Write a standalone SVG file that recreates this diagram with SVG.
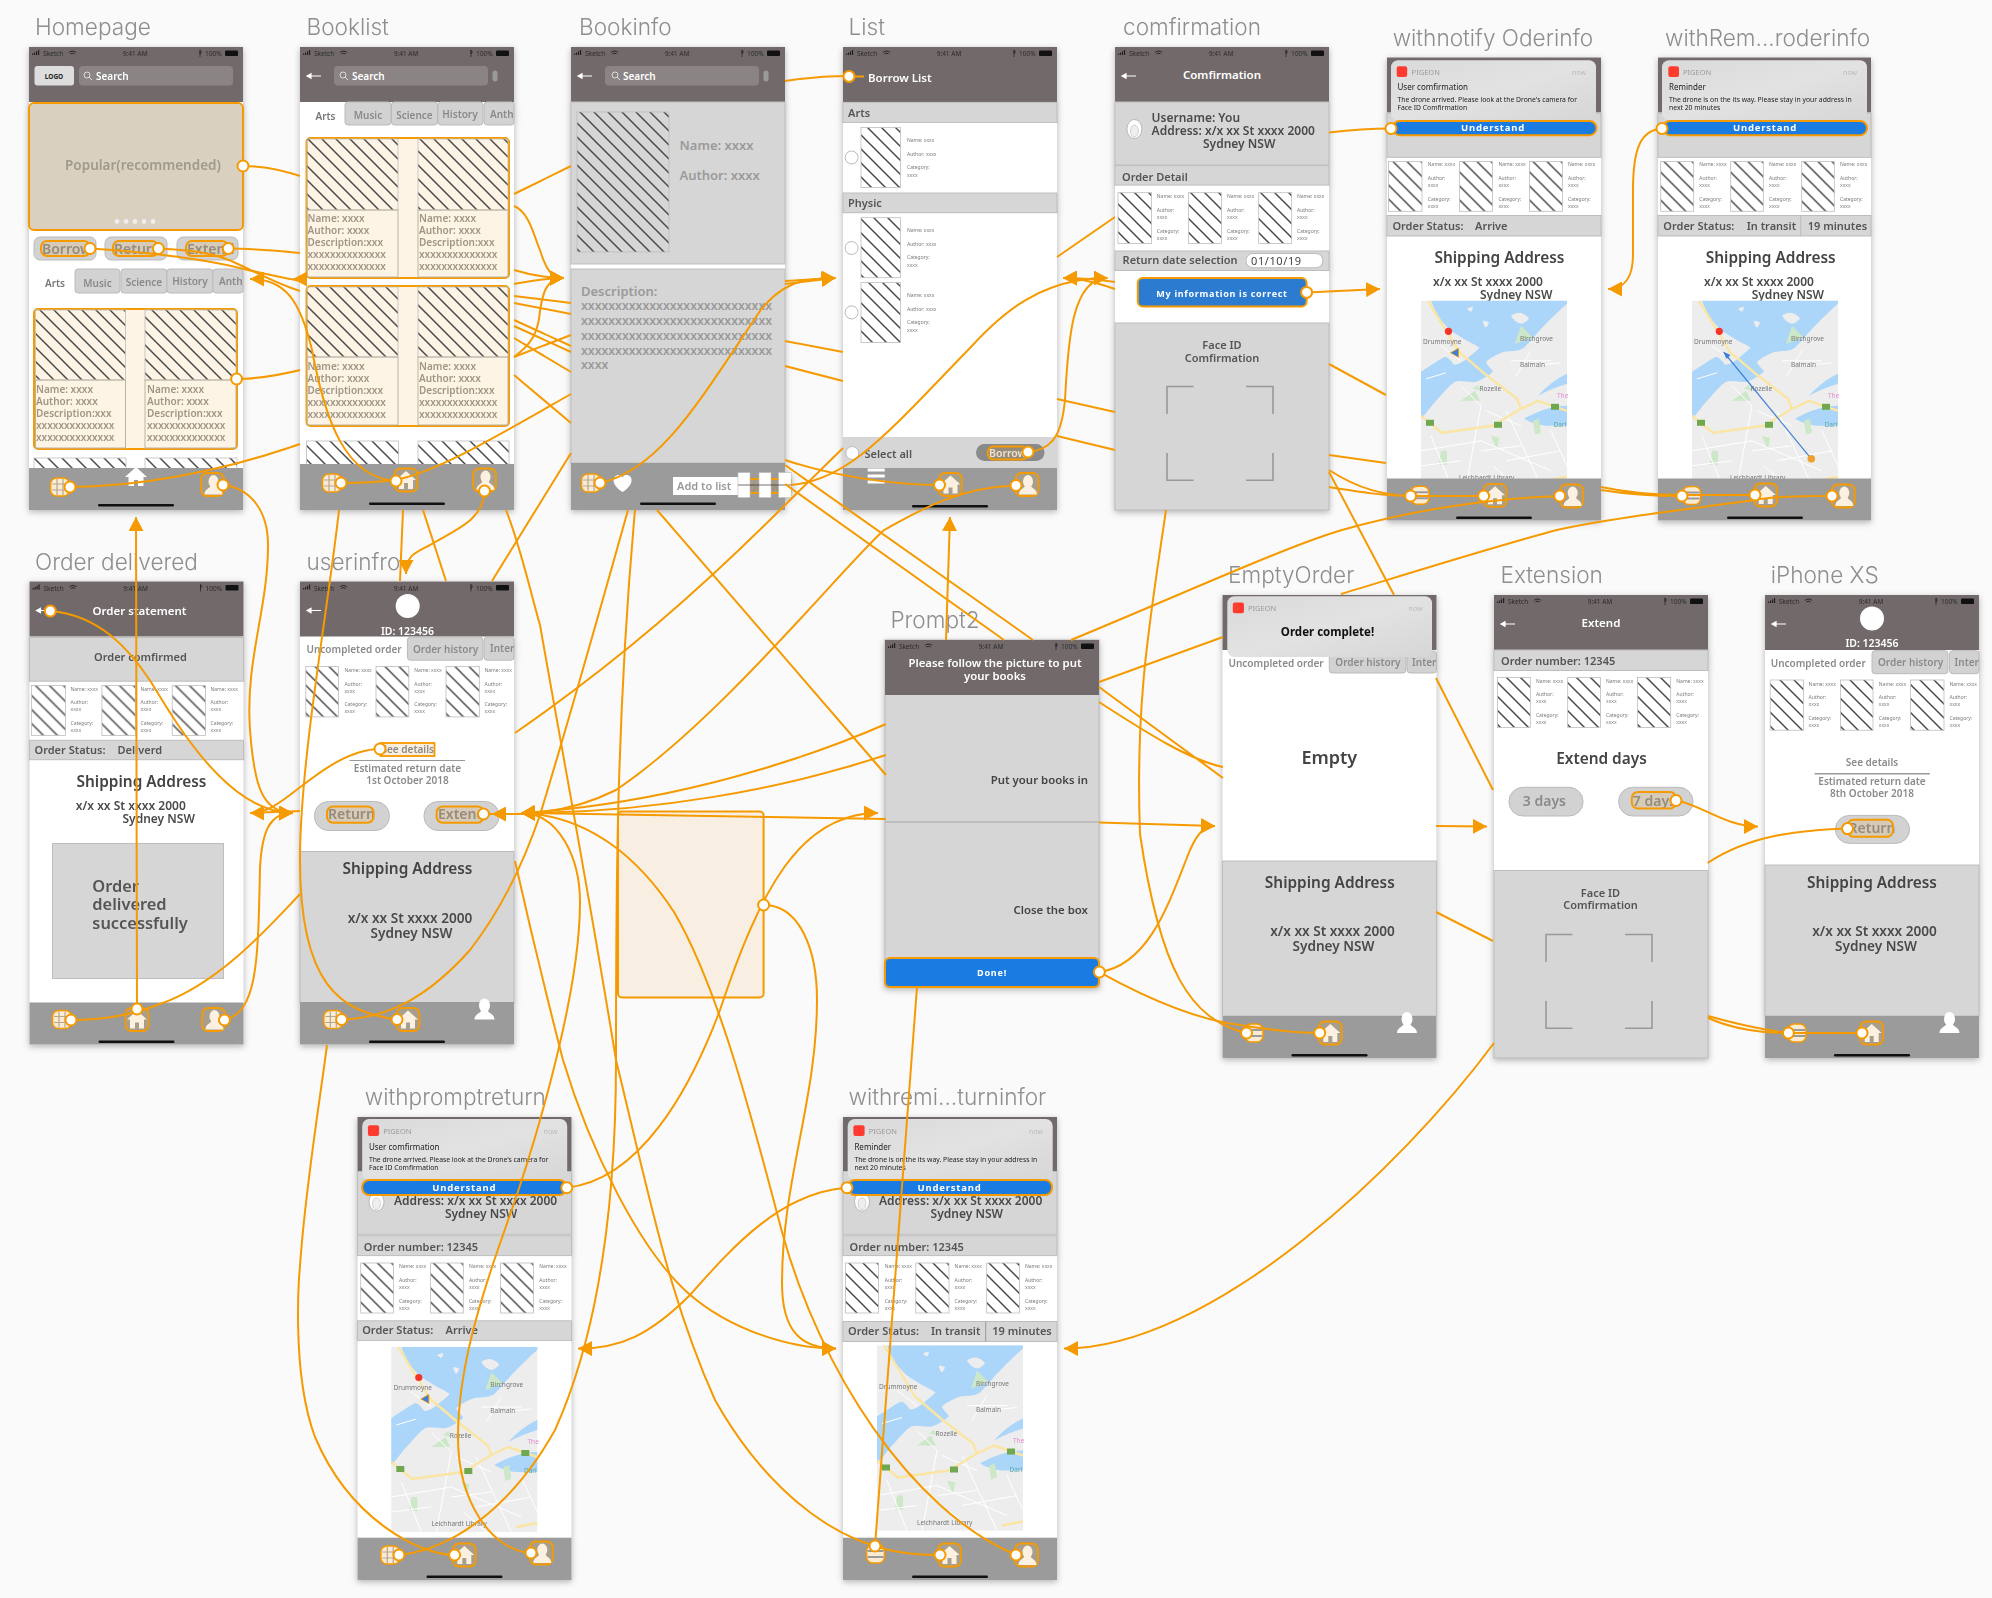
<svg xmlns="http://www.w3.org/2000/svg" width="1992" height="1598" viewBox="0 0 1992 1598">
<style>
text{font-family:"Noto Sans","DejaVu Sans",sans-serif}
.ti{font-family:Inter,"Noto Sans",sans-serif;font-size:22.6px;font-weight:300;fill:#8E8E8E}
.ph{fill:#fff}
.phone{filter:drop-shadow(0 2px 3px rgba(0,0,0,.28))}
.hd{fill:#726A6A}
.bar{fill:#9B9B9B}
.ind{fill:#111}
.sec{fill:#D6D6D6;stroke:#BDBDBD;stroke-width:1}
.ht{fill:url(#h);stroke:#BDBDBD;stroke-width:.8}
.tab{fill:#D2D2D2;stroke:#BBB;stroke-width:1}
.st{font-size:6.5px;fill:#2b2b2b}
.wt{font-size:11.5px;font-weight:600;fill:#fff}
.sr{font-size:10px;font-weight:600;fill:#fff}
.tb{font-size:10px;font-weight:600;fill:#8a8a8a}
.bk{font-size:10px;font-weight:600;fill:#A09683}
.s{font-size:5px;fill:#7b7b7b}
.h2{font-size:11px;font-weight:600;fill:#555}
.sh{font-size:15.4px;font-weight:600;fill:#444}
.ad{font-size:12px;font-weight:600;fill:#4a4a4a}
.ad2{font-size:13.6px;font-weight:600;fill:#4a4a4a}
.gr{font-size:13px;font-weight:600;fill:#9a9a9a}
.gy{font-size:10px;font-weight:600;fill:#8a8a8a}
.bt{font-size:14px;font-weight:600;fill:#8a8a8a}
.btn{fill:#1A7BE2;stroke:#F59A00;stroke-width:2}
.bw{font-size:9.5px;font-weight:700;fill:#fff;letter-spacing:.8px;text-anchor:middle}
.hl{fill:rgba(245,154,0,.12);stroke:#F59A00;stroke-width:2}
.pill{fill:#D2D2D2;stroke:#BBB;stroke-width:1}
.c{text-anchor:middle}
.r{text-anchor:end}
.card{fill:url(#cg)}
.pg{font-size:7.5px;fill:#999}
.no{font-size:7px;fill:#BBB;text-anchor:end}
.nt{font-size:8px;fill:#222}
.nl{font-size:6.8px;fill:#222}
.br{fill:none;stroke:#999;stroke-width:1.6}
.mt{font-size:6.5px;fill:#777}
#connectors path{fill:none;stroke:#F59A00;stroke-width:2}
#connectors .a{marker-end:url(#arrow)}
#connectors circle{fill:#fff;stroke:#F59A00;stroke-width:2;r:5.5px}
</style>
<defs>
<pattern id="h" width="14" height="14" patternUnits="userSpaceOnUse"><path d="M-2,-2L16,16M-2,12L2,16M12,-2L16,2" stroke="#4a4a4a" stroke-width="1.5" fill="none"/></pattern>
<linearGradient id="cg" x1="0" y1="0" x2="1" y2="1"><stop offset="0" stop-color="#DADADA"/><stop offset=".5" stop-color="#E2E2E2"/><stop offset="1" stop-color="#D6D6D6"/></linearGradient>
<filter id="soft" x="0" y="0" width="1" height="1"><feGaussianBlur stdDeviation=".6"/></filter>
<marker id="arrow" viewBox="0 0 14 15" refX="14" refY="7.5" markerWidth="14" markerHeight="15" markerUnits="userSpaceOnUse" orient="auto"><path d="M0,0L14,7.5L0,15Z" fill="#F59A00"/></marker>
<g id="sb"><path d="M3,8V6.5H4.2V8ZM5,8V5.5H6.2V8ZM7,8V4.3H8.2V8ZM9,8V3H10.2V8Z" fill="#222"/><path d="M40,5.5a5,5 0 0 1 7,0M41.5,7a3,3 0 0 1 4,0" stroke="#222" fill="none" stroke-width="1"/><path d="M171,3L172.5,5L171,7ZM171,3V10" stroke="#222" fill="none" stroke-width=".7"/><rect x="196" y="3.5" width="13" height="5.5" rx="1" fill="#111"/></g>
<path id="bk" d="M7,29H21M7,29L11,26.8V31.2Z" stroke="#fff" stroke-width="1.2" fill="#fff"/>
<g id="mg"><circle cx="0" cy="0" r="3" fill="none" stroke="#ddd" stroke-width="1"/><path d="M2,2L5,5" stroke="#ddd"/></g>
<rect id="mc" x="-2.5" y="-5.5" width="5" height="11" rx="2.5" fill="#9a9a9a"/>
<g id="fc"><ellipse rx="7.5" ry="9.5" fill="#fff" stroke="#aaa" stroke-width=".8"/><ellipse cy="2" rx="4" ry="6" fill="#eee" stroke="#bbb" stroke-width=".6"/></g>
<g id="ig"><rect x="-9.5" y="-9" width="19" height="18" rx="6" fill="#FBEBD3" stroke="#F59A00" stroke-width="1.6"/><path d="M-3,-8V8M3,-8V8M-8,-3H8M-8,3H8" stroke="#B5A792" stroke-width="1.2"/></g>
<g id="il"><rect x="-9" y="-9" width="18" height="18" rx="6" fill="#FBEBD3" stroke="#F59A00" stroke-width="1.6"/><path d="M-8,-3H8M-8,3H8" stroke="#9B9B9B" stroke-width="2"/></g>
<g id="ih"><rect x="-11.5" y="-11.5" width="23" height="23" rx="6" fill="#A89E8E" stroke="#F59A00" stroke-width="1.8"/><path d="M0,-9L10,0H7V9H2V3H-2V9H-7V0H-10Z" fill="#FCF1E0"/></g>
<g id="ip"><rect x="-11.5" y="-11.5" width="23" height="23" rx="6" fill="#A89E8E" stroke="#F59A00" stroke-width="1.8"/><ellipse cx="1" cy="-3" rx="5" ry="6.5" fill="#FCF1E0"/><path d="M-8,10C-8,4 -2,4 -2,1H4C4,4 10,4 10,10Z" fill="#FCF1E0"/></g>
<g id="iw"><ellipse cy="-4" rx="5.5" ry="7" fill="#fff"/><path d="M-10,10C-10,4 -3,4 -3,0H3C3,4 10,4 10,10Z" fill="#fff"/></g>
<path id="hw" d="M0,-10L11,0H7.5V9H2V3H-2V9H-7.5V0H-11Z" fill="#fff"/>
<path id="lw" d="M-8,-6H9M-8,0H9M-8,6H9" stroke="#fff" stroke-width="3"/>
<path id="hr" d="M0,9C-14,0 -9,-9 -3,-8C-1,-8 0,-6 0,-5C0,-6 1,-8 3,-8C9,-9 14,0 0,9Z" fill="#fff"/>
<g id="brk"><path class="br" d="M52,367V339.5H78.5M131,339.5H158V367M52,406V433.3H78.5M131,433.3H158V406"/></g>
<g id="map"><rect width="146" height="185" fill="#EDEDED"/><g filter="url(#soft)"><path d="M10,0C14,10 18,18 24,24C30,31 35,33 41,37C47,41 53,43 58.5,47C54,52 50,54 46.5,57.5C42,61 38,64 33,64C30,60 28,57 24,56C16,60 8,66 0,71V118C6,112 11,104 17,98C23,91 28,85 34,81C40,79 48,82 55,81C61,79 67,75 72,71C70,67 66,65 65,61C71,56 77,53 83,51C90,50 97,51 103,47C110,40 117,31 124,24C131,17 139,9 146,3V0ZM146,73C135,78 125,86 117,95C126,90 136,86 146,83ZM146,105C137,105 128,107 120,110C114,112 108,115 103,118C110,122 117,124 124,125H146Z" fill="#ABD6F9"/><path d="M90,15c4,-3 9,-4 12,-2c3,1 5,3 6,5c-3,3 -6,5 -8,5c-4,-1 -8,-4 -10,-8zM62,20c3,0 5,1 6,2c-1,2 -2,4 -3,5c-2,-2 -3,-4 -3,-7zM46,8c2,-1 4,-2 6,-2c0,2 -1,4 -2,5c-2,-1 -3,-2 -4,-3z" fill="#EDEDED"/><path d="M100,25l12,12 -18,6zM40,100l14,-10 5,10zM20,150l6,0 0,14 -8,0zM70,135l8,2 -2,12zM112,120l6,-2 2,14 -6,2zM52,88l5,-4 3,6z" fill="#CDE8C8"/><path d="M0,150L60,140L130,170M40,85L60,105L45,185M85,110L120,185M20,45L40,60M90,60L130,60M110,50L95,75M10,135L30,185M60,150L100,145M5,78L25,72M65,110L100,125M85,160L140,150M110,65L140,62M130,130L146,165M0,165L40,160M72,165L95,185" stroke="#fff" stroke-width="1" fill="none"/><path d="M7,0L38,51L65,74L96,98L100,108L117,100L146,110M0,115L21,132L72,125L100,108M125,180L146,176" fill="none" stroke="#FBE5A2" stroke-width="2.4" stroke-linejoin="round"/></g><rect x="5" y="119" width="8" height="6" fill="#6FA84F"/><rect x="73" y="121" width="8" height="6" fill="#6FA84F"/><rect x="130" y="103" width="8" height="6" fill="#6FA84F"/></g>
<g id="pin"><circle r="3.6" fill="#F4332B"/></g>
<g id="nav"><path d="M-5,0L3,-4.5V4.5Z" fill="#3C7FD4" stroke="#F59A00" stroke-width=".8"/></g>
</defs>
<rect width="1992" height="1598" fill="#FAFAFA"/>
<rect x="618" y="811.5" width="145.6" height="186" rx="4" fill="#F8EFE2" stroke="#F59A00" stroke-width="2"/>

<g id="homepage" class="phone" transform="translate(29,47)">
<rect class="ph" width="214" height="463"/><rect class="hd" width="214" height="55"/><use href="#sb"/>
<text class="st" x="14" y="9">Sketch</text><text class="st c" x="106" y="9">9:41 AM</text><text class="st" x="176" y="9">100%</text>
<rect x="5.5" y="19" width="39.5" height="19.5" rx="3" fill="#DDD"/><text x="25" y="31.5" class="c" font-size="6.5" font-weight="700" fill="#222">LOGO</text>
<rect x="50" y="19" width="154" height="19.5" rx="4" fill="#8A8484"/><use href="#mg" x="58" y="28"/><text class="sr" x="67" y="32.5">Search</text>
<rect x="0" y="56" width="214" height="127" rx="5" fill="#D9D0C0" stroke="#F59A00" stroke-width="2"/>
<text x="114" y="123" class="c" font-size="13.5" font-weight="600" fill="#A09A8D">Popular(recommended)</text>
<g fill="#EEE"><circle cx="88" cy="174.5" r="2.4"/><circle cx="97" cy="174.5" r="2.4"/><circle cx="106" cy="174.5" r="2.4"/><circle cx="115" cy="174.5" r="2.4"/><circle cx="124" cy="174.5" r="2.4"/></g>
<rect class="pill" x="5" y="190" width="62" height="23" rx="6"/><rect class="pill" x="76" y="190" width="62" height="23" rx="6"/><rect class="pill" x="148" y="190" width="61" height="23" rx="6"/>
<text class="bt" x="13" y="207">Borrow</text><text class="bt" x="85" y="207">Return</text><text class="bt" x="158" y="207">Extend</text>
<rect class="hl" x="12" y="194" width="49" height="15" rx="6"/><rect class="hl" x="84" y="194" width="45" height="15" rx="6"/><rect class="hl" x="157" y="194" width="42" height="15" rx="6"/>
<rect class="tab" x="46" y="222" width="45" height="24" rx="3"/><rect class="tab" x="92" y="222" width="46" height="24" rx="3"/><rect class="tab" x="138" y="222" width="46" height="24" rx="3"/><rect class="tab" x="184" y="222" width="30" height="24" rx="3"/>
<text class="tb c" x="26" y="240" style="fill:#777">Arts</text><text class="tb c" x="68.5" y="240">Music</text><text class="tb c" x="115" y="239">Science</text><text class="tb c" x="161" y="238">History</text><text class="tb" x="190" y="238">Anth</text>
<rect x="5" y="262" width="203" height="140" rx="4" fill="#FDF4E6" stroke="#F59A00" stroke-width="2"/>
<rect class="ht" x="6.5" y="263" width="90" height="70"/><rect class="ht" x="116" y="263" width="91" height="70"/>
<rect x="6.5" y="333" width="90" height="68" fill="none" stroke="#BDB3A0"/><rect x="116" y="333" width="91" height="68" fill="none" stroke="#BDB3A0"/>
<text class="bk" x="7" y="346">Name: xxxx<tspan x="7" dy="12">Author: xxxx</tspan><tspan x="7" dy="12">Description:xxx</tspan><tspan x="7" dy="12">xxxxxxxxxxxxxx</tspan><tspan x="7" dy="12">xxxxxxxxxxxxxx</tspan></text>
<text class="bk" x="118" y="346">Name: xxxx<tspan x="118" dy="12">Author: xxxx</tspan><tspan x="118" dy="12">Description:xxx</tspan><tspan x="118" dy="12">xxxxxxxxxxxxxx</tspan><tspan x="118" dy="12">xxxxxxxxxxxxxx</tspan></text>
<rect class="ht" x="5" y="411" width="92" height="12"/><rect class="ht" x="116" y="411" width="92" height="12"/>
<rect class="bar" y="421" width="214" height="42"/><rect class="ind" x="69" y="457" width="76" height="2.5" rx="1.2"/>
<use href="#ig" x="31" y="440"/><use href="#hw" x="107" y="430"/><use href="#ip" x="183.5" y="437.5"/>
</g>

<g id="booklist" class="phone" transform="translate(300,47)">
<rect class="ph" width="214" height="463"/><rect class="hd" width="214" height="55"/><use href="#sb"/>
<text class="st" x="14" y="9">Sketch</text><text class="st c" x="106" y="9">9:41 AM</text><text class="st" x="176" y="9">100%</text>
<use href="#bk"/><rect x="34" y="19" width="154" height="19.5" rx="4" fill="#8A8484"/><use href="#mg" x="43" y="28"/><text class="sr" x="52" y="32.5">Search</text><use href="#mc" x="195" y="29"/>
<rect class="tab" x="45" y="55" width="46" height="23" rx="3"/><rect class="tab" x="91.5" y="55" width="46" height="23" rx="3"/><rect class="tab" x="138" y="55" width="45" height="23" rx="3"/><rect class="tab" x="184" y="55" width="30" height="23" rx="3"/>
<text class="tb c" x="25.5" y="73" style="fill:#777">Arts</text><text class="tb c" x="68" y="72">Music</text><text class="tb c" x="114.5" y="71.5">Science</text><text class="tb c" x="160" y="71">History</text><text class="tb" x="190" y="71">Anth</text>
<rect x="6.5" y="91" width="202.5" height="140" rx="4" fill="#FDF4E6" stroke="#F59A00" stroke-width="2"/>
<rect class="ht" x="7" y="92" width="91" height="71"/><rect class="ht" x="118" y="92" width="90" height="71"/>
<rect x="7" y="163" width="91" height="67" fill="none" stroke="#BDB3A0"/><rect x="118" y="163" width="90" height="67" fill="none" stroke="#BDB3A0"/>
<text class="bk" x="7.5" y="175">Name: xxxx<tspan x="7.5" dy="12">Author: xxxx</tspan><tspan x="7.5" dy="12">Description:xxx</tspan><tspan x="7.5" dy="12">xxxxxxxxxxxxxx</tspan><tspan x="7.5" dy="12">xxxxxxxxxxxxxx</tspan></text>
<text class="bk" x="119" y="175">Name: xxxx<tspan x="119" dy="12">Author: xxxx</tspan><tspan x="119" dy="12">Description:xxx</tspan><tspan x="119" dy="12">xxxxxxxxxxxxxx</tspan><tspan x="119" dy="12">xxxxxxxxxxxxxx</tspan></text>
<rect x="6.5" y="239" width="202.5" height="140" rx="4" fill="#FDF4E6" stroke="#F59A00" stroke-width="2"/>
<rect class="ht" x="7" y="240" width="91" height="70"/><rect class="ht" x="118" y="240" width="90" height="70"/>
<rect x="7" y="310" width="91" height="68" fill="none" stroke="#BDB3A0"/><rect x="118" y="310" width="90" height="68" fill="none" stroke="#BDB3A0"/>
<text class="bk" x="7.5" y="323">Name: xxxx<tspan x="7.5" dy="12">Author: xxxx</tspan><tspan x="7.5" dy="12">Description:xxx</tspan><tspan x="7.5" dy="12">xxxxxxxxxxxxxx</tspan><tspan x="7.5" dy="12">xxxxxxxxxxxxxx</tspan></text>
<text class="bk" x="119" y="323">Name: xxxx<tspan x="119" dy="12">Author: xxxx</tspan><tspan x="119" dy="12">Description:xxx</tspan><tspan x="119" dy="12">xxxxxxxxxxxxxx</tspan><tspan x="119" dy="12">xxxxxxxxxxxxxx</tspan></text>
<rect class="ht" x="6.5" y="394" width="92" height="24"/><rect class="ht" x="118" y="394" width="91" height="24"/>
<rect class="bar" y="417" width="214" height="46"/><rect class="ind" x="69" y="455.5" width="76" height="2.5" rx="1.2"/>
<use href="#ig" x="32" y="436"/><use href="#ih" x="106" y="433"/><use href="#ip" x="184.5" y="433"/>
</g>

<g id="bookinfo" class="phone" transform="translate(571,47)">
<rect class="ph" width="214" height="463"/><rect class="hd" width="214" height="55"/><use href="#sb"/>
<text class="st" x="14" y="9">Sketch</text><text class="st c" x="106" y="9">9:41 AM</text><text class="st" x="176" y="9">100%</text>
<use href="#bk"/><rect x="34" y="19" width="154" height="19.5" rx="4" fill="#8A8484"/><use href="#mg" x="44" y="28"/><text class="sr" x="52" y="32.5">Search</text><use href="#mc" x="195" y="29"/>
<rect class="sec" y="55" width="214" height="162"/><rect class="ht" x="6" y="65" width="92" height="140"/>
<text class="gr" x="108.5" y="103">Name: xxxx</text><text class="gr" x="108.5" y="133">Author: xxxx</text>
<rect class="sec" y="222" width="214" height="194"/>
<text class="gr" x="10" y="249">Description:</text>
<text class="gr" x="10" y="263" style="font-size:12.2px">xxxxxxxxxxxxxxxxxxxxxxxxxxxx<tspan x="10" dy="15.2">xxxxxxxxxxxxxxxxxxxxxxxxxxxx</tspan><tspan x="10" dy="14.6">xxxxxxxxxxxxxxxxxxxxxxxxxxxx</tspan><tspan x="10" dy="15">xxxxxxxxxxxxxxxxxxxxxxxxxxxx</tspan><tspan x="10" dy="14.6">xxxx</tspan></text>
<rect class="bar" y="416" width="214" height="47"/><rect class="ind" x="69" y="455.5" width="76" height="2.5" rx="1.2"/>
<use href="#ig" x="20" y="436"/><use href="#hr" x="51.6" y="436"/>
<text x="190" y="444" class="c" font-size="11" fill="#8a8a8a">Borrow</text>
<rect x="167" y="432" width="53" height="14" rx="2" class="hl"/>
<rect x="102" y="430" width="65" height="18" fill="#fff"/><text x="106" y="443" font-size="11" font-weight="600" fill="#999">Add to list</text>
<g fill="#fff" stroke="#bbb" stroke-width=".6"><rect x="167" y="425.6" width="12" height="25"/><rect x="188" y="425.6" width="12" height="25"/><rect x="207.6" y="425.6" width="12.6" height="25"/></g>
<path d="M167,438H220" stroke="#333" stroke-width=".7"/>
</g>

<g id="list" class="phone" transform="translate(843,47)">
<rect class="ph" width="214" height="463"/><rect class="hd" width="214" height="55"/><use href="#sb"/>
<text class="st" x="14" y="9">Sketch</text><text class="st c" x="106" y="9">9:41 AM</text><text class="st" x="176" y="9">100%</text>
<path d="M7,29.5H21" stroke="#F59A00" stroke-width="2"/><text class="wt" x="25" y="34.5">Borrow List</text>
<rect class="sec" y="55.4" width="214" height="20"/><text class="h2" x="5" y="69.6">Arts</text>
<circle cx="8.6" cy="110.5" r="6.5" fill="#fff" stroke="#BBB"/><rect class="ht" x="18" y="80.5" width="39.5" height="60"/>
<text class="s" x="64" y="95">Name: xxxx<tspan x="64" dy="13.5">Author: xxxx</tspan><tspan x="64" dy="13.5">Category:</tspan><tspan x="64" dy="7.5">xxxx</tspan></text>
<rect class="sec" y="146" width="214" height="19.7"/><text class="h2" x="5" y="160">Physic</text>
<circle cx="8.6" cy="201" r="6.5" fill="#fff" stroke="#BBB"/><rect class="ht" x="18" y="170.7" width="39.5" height="60"/>
<text class="s" x="64" y="185">Name: xxxx<tspan x="64" dy="13.5">Author: xxxx</tspan><tspan x="64" dy="13.5">Category:</tspan><tspan x="64" dy="7.5">xxxx</tspan></text>
<circle cx="8.6" cy="265.4" r="6.5" fill="#fff" stroke="#BBB"/><rect class="ht" x="18" y="235.6" width="39.5" height="60"/>
<text class="s" x="64" y="250">Name: xxxx<tspan x="64" dy="13.5">Author: xxxx</tspan><tspan x="64" dy="13.5">Category:</tspan><tspan x="64" dy="7.5">xxxx</tspan></text>
<rect y="390" width="214" height="31" fill="#D6D6D6"/>
<circle cx="9.3" cy="406" r="6.5" fill="#fff" stroke="#BBB"/><text class="h2" x="21.5" y="410.7">Select all</text>
<rect x="133" y="397" width="68.5" height="17" rx="8.5" fill="#8a8a8a"/><text x="146" y="409.5" font-size="10.5" font-weight="600" fill="#EEE">Borrow</text><rect class="hl" x="144.7" y="399.5" width="40.3" height="13" rx="6"/>
<rect class="bar" y="421" width="214" height="42"/><rect class="ind" x="69" y="458" width="76" height="2.5" rx="1.2"/>
<use href="#lw" x="32.7" y="429"/><use href="#ih" x="107.5" y="437.5"/><use href="#ip" x="184" y="437.5"/>
</g>

<g id="comfirmation" class="phone" transform="translate(1115,47)">
<rect class="ph" width="214" height="463"/><rect class="hd" width="214" height="55"/><use href="#sb"/>
<text class="st" x="14" y="9">Sketch</text><text class="st c" x="106" y="9">9:41 AM</text><text class="st" x="176" y="9">100%</text>
<use href="#bk"/><text class="wt c" x="107" y="32">Comfirmation</text>
<rect class="sec" y="55" width="214" height="63"/><use href="#fc" x="19.4" y="82"/>
<text class="ad" x="36.6" y="75">Username: You</text><text class="ad" x="36.6" y="87.6">Address: x/x xx St xxxx 2000</text><text class="ad" x="88" y="100.7">Sydney NSW</text>
<rect class="sec" y="118.6" width="214" height="19.5"/><text class="h2" x="7" y="134">Order Detail</text>
<rect class="ht" x="3" y="145.7" width="33.6" height="50.7"/><rect class="ht" x="73.5" y="145.7" width="33" height="50.7"/><rect class="ht" x="143.7" y="145.7" width="33" height="50.7"/>
<text class="s" x="41.8" y="151">Name: xxxx<tspan x="41.8" dy="14">Author:</tspan><tspan x="41.8" dy="7">xxxx</tspan><tspan x="41.8" dy="13.6">Category:</tspan><tspan x="41.8" dy="7">xxxx</tspan></text>
<text class="s" x="112" y="151">Name: xxxx<tspan x="112" dy="14">Author:</tspan><tspan x="112" dy="7">xxxx</tspan><tspan x="112" dy="13.6">Category:</tspan><tspan x="112" dy="7">xxxx</tspan></text>
<text class="s" x="182" y="151">Name: xxxx<tspan x="182" dy="14">Author:</tspan><tspan x="182" dy="7">xxxx</tspan><tspan x="182" dy="13.6">Category:</tspan><tspan x="182" dy="7">xxxx</tspan></text>
<rect class="sec" y="204" width="214" height="19.5"/><text class="h2" x="7.6" y="216.7">Return date selection</text>
<rect x="131" y="206.5" width="76.8" height="14.3" rx="7" fill="#fff" stroke="#BBB"/><text x="136" y="217.7" font-size="11" fill="#444" letter-spacing=".6">01/10/19</text>
<rect x="22.8" y="231" width="168.8" height="28.6" rx="5" fill="#2B7BD0" stroke="#F59A00" stroke-width="2"/><text class="c" x="107" y="249.5" font-size="9" font-weight="700" fill="#fff" letter-spacing=".7">My information is correct</text>
<rect class="sec" y="276" width="214" height="187"/>
<text class="h2 c" x="107" y="302">Face ID</text><text class="h2 c" x="107" y="314.7">Comfirmation</text><use href="#brk"/>
</g>

<g id="withnotify-oderinfo" class="phone" transform="translate(1387,57.5)">
<rect class="ph" width="214" height="463"/><rect class="hd" width="214" height="55"/>
<rect class="sec" y="55.8" width="214" height="44"/><text class="h2 c" x="110" y="78.5">Order comfirmed</text>
<rect class="ht" x="1.5" y="104" width="33.5" height="49.8"/><rect class="ht" x="72.5" y="104" width="33" height="49.8"/><rect class="ht" x="142.4" y="104" width="33" height="49.8"/>
<text class="s" x="40.8" y="108.8">Name: xxxx<tspan x="40.8" dy="14">Author:</tspan><tspan x="40.8" dy="6.8">xxxx</tspan><tspan x="40.8" dy="14">Category:</tspan><tspan x="40.8" dy="6.8">xxxx</tspan></text>
<text class="s" x="111.4" y="108.8">Name: xxxx<tspan x="111.4" dy="14">Author:</tspan><tspan x="111.4" dy="6.8">xxxx</tspan><tspan x="111.4" dy="14">Category:</tspan><tspan x="111.4" dy="6.8">xxxx</tspan></text>
<text class="s" x="181" y="108.8">Name: xxxx<tspan x="181" dy="14">Author:</tspan><tspan x="181" dy="6.8">xxxx</tspan><tspan x="181" dy="14">Category:</tspan><tspan x="181" dy="6.8">xxxx</tspan></text>
<rect class="sec" y="158" width="214" height="20.5"/><text class="h2" x="5.4" y="172.4">Order Status:</text><text class="h2" x="88" y="172.4">Arrive</text>
<text class="sh c" x="112.4" y="205.5">Shipping Address</text><text class="ad" x="46" y="228.5">x/x xx St xxxx 2000</text><text class="ad" x="93" y="241.3">Sydney NSW</text>
<use href="#map" x="34" y="243.3"/><use href="#pin" x="61.5" y="273.8"/><use href="#nav" x="68.5" y="295.3"/>
<text class="mt" x="36" y="286.3">Drummoyne</text><text class="mt" x="133" y="283.3">Birchgrove</text><text class="mt" x="133" y="309.3">Balmain</text><text class="mt" x="92.5" y="333.9">Rozelle</text><text class="mt" x="72" y="422.3">Leichhardt Library</text><text class="mt" x="170" y="340.3" style="fill:#E58BD0">The</text><text class="mt" x="166.6" y="369.3" style="fill:#5AA6A6">Darl</text>
<rect class="bar" y="421" width="214" height="42"/><rect class="ind" x="69" y="459" width="76" height="2.5" rx="1.2"/>
<use href="#il" x="33" y="437.8"/><use href="#ih" x="108" y="437.8"/><use href="#ip" x="184.7" y="438.5"/>
<rect class="card" x="4" y="2.7" width="205" height="60" rx="7"/><rect x="9.7" y="8.8" width="10.5" height="10.7" rx="2" fill="#FF3B30"/>
<text class="pg" x="24.6" y="17">PIGEON</text><text class="no" x="199" y="17">now</text><text class="nt" x="10.5" y="32">User comfirmation</text>
<text class="nl" x="10.5" y="44.6">The drone arrived. Please look at the Drone's camera for</text><text class="nl" x="10.5" y="52.4">Face ID Comfirmation</text>
<rect class="btn" x="5.7" y="63.5" width="203.8" height="14.2" rx="7"/><text class="bw" x="106" y="73.7">Understand</text>
</g>

<g id="withrem-roderinfo" class="phone" transform="translate(1658,57.5)">
<rect class="ph" width="213" height="463"/><rect class="hd" width="213" height="55"/>
<rect class="sec" y="55.8" width="213" height="44"/><text class="h2 c" x="110" y="78.5">Order comfirmed</text>
<rect class="ht" x="2.7" y="104" width="33" height="49.8"/><rect class="ht" x="72.7" y="104" width="32.6" height="49.8"/><rect class="ht" x="143.7" y="104" width="32.6" height="49.8"/>
<text class="s" x="41.3" y="108.8">Name: xxxx<tspan x="41.3" dy="14">Author:</tspan><tspan x="41.3" dy="6.8">xxxx</tspan><tspan x="41.3" dy="14">Category:</tspan><tspan x="41.3" dy="6.8">xxxx</tspan></text>
<text class="s" x="111" y="108.8">Name: xxxx<tspan x="111" dy="14">Author:</tspan><tspan x="111" dy="6.8">xxxx</tspan><tspan x="111" dy="14">Category:</tspan><tspan x="111" dy="6.8">xxxx</tspan></text>
<text class="s" x="182" y="108.8">Name: xxxx<tspan x="182" dy="14">Author:</tspan><tspan x="182" dy="6.8">xxxx</tspan><tspan x="182" dy="14">Category:</tspan><tspan x="182" dy="6.8">xxxx</tspan></text>
<rect class="sec" y="158" width="213" height="20.5"/><path d="M142.7,158V178.5" stroke="#BDBDBD"/><text class="h2" x="5.3" y="172.4">Order Status:</text><text class="h2" x="88.7" y="172.4">In transit</text><text class="h2" x="149.7" y="172.4">19 minutes</text>
<text class="sh c" x="112.7" y="205.5">Shipping Address</text><text class="ad" x="46" y="228.5">x/x xx St xxxx 2000</text><text class="ad" x="93.7" y="241.3">Sydney NSW</text>
<use href="#map" x="34" y="243.3"/><use href="#pin" x="61.3" y="273.8"/>
<text class="mt" x="36" y="286.3">Drummoyne</text><text class="mt" x="133" y="283.3">Birchgrove</text><text class="mt" x="133" y="309.3">Balmain</text><text class="mt" x="92.5" y="333.9">Rozelle</text><text class="mt" x="72" y="422.3">Leichhardt Library</text><text class="mt" x="170" y="340.3" style="fill:#E58BD0">The</text><text class="mt" x="166.6" y="369.3" style="fill:#5AA6A6">Darl</text>
<path d="M153.3,401.3L66,295" stroke="#3C7FD4" stroke-width="1.2"/><path d="M65.3,294.3L72.5,297.5L68.5,301.5Z" fill="#3C7FD4"/><circle cx="153.3" cy="401.3" r="3.8" fill="#F0A030"/>
<rect class="bar" y="421" width="213" height="42"/><rect class="ind" x="69" y="459" width="76" height="2.5" rx="1.2"/>
<use href="#il" x="33.7" y="438"/><use href="#ih" x="107.7" y="437.5"/><use href="#ip" x="185.3" y="438.5"/>
<rect class="card" x="4" y="2.7" width="205" height="60" rx="7"/><rect x="10.3" y="8.8" width="10.7" height="10.7" rx="2" fill="#FF3B30"/>
<text class="pg" x="25" y="17">PIGEON</text><text class="no" x="199" y="17">now</text><text class="nt" x="11" y="32">Reminder</text>
<text class="nl" x="11" y="44.6">The drone is on the its way. Please stay in your address in</text><text class="nl" x="11" y="52.4">next 20 minutes</text>
<rect class="btn" x="5" y="63.5" width="204" height="14.2" rx="7"/><text class="bw" x="107" y="73.7">Understand</text>
</g>

<g id="order-delivered" class="phone" transform="translate(29.5,581.5)">
<rect class="ph" width="214" height="463"/><rect class="hd" width="214" height="55"/><use href="#sb"/>
<text class="st" x="14" y="9">Sketch</text><text class="st c" x="106" y="9">9:41 AM</text><text class="st" x="176" y="9">100%</text>
<use href="#bk"/><text class="wt c" x="110" y="33">Order statement</text>
<rect class="sec" y="56" width="214" height="43.7"/><text class="h2 c" x="111" y="79.3">Order comfirmed</text>
<rect class="ht" x="2" y="104" width="34" height="50"/><rect class="ht" x="72.4" y="104" width="33.6" height="50"/><rect class="ht" x="142.7" y="104" width="33.3" height="50"/>
<text class="s" x="41" y="109">Name: xxxx<tspan x="41" dy="13.6">Author:</tspan><tspan x="41" dy="7">xxxx</tspan><tspan x="41" dy="13.5">Category:</tspan><tspan x="41" dy="7">xxxx</tspan></text>
<text class="s" x="111" y="109">Name: xxxx<tspan x="111" dy="13.6">Author:</tspan><tspan x="111" dy="7">xxxx</tspan><tspan x="111" dy="13.5">Category:</tspan><tspan x="111" dy="7">xxxx</tspan></text>
<text class="s" x="181" y="109">Name: xxxx<tspan x="181" dy="13.6">Author:</tspan><tspan x="181" dy="7">xxxx</tspan><tspan x="181" dy="13.5">Category:</tspan><tspan x="181" dy="7">xxxx</tspan></text>
<rect class="sec" y="158.8" width="214" height="19.4"/><text class="h2" x="5" y="172.7">Order Status:</text><text class="h2" x="88" y="172.7">Deliverd</text>
<text class="sh c" x="112" y="205.5">Shipping Address</text><text class="ad" x="46.3" y="228.4">x/x xx St xxxx 2000</text><text class="ad" x="93" y="241.3">Sydney NSW</text>
<rect class="sec" x="23" y="262" width="171" height="135"/>
<text x="62.8" y="310" font-size="16.4" font-weight="600" fill="#555">Order<tspan x="62.8" dy="18.7">delivered</tspan><tspan x="62.8" dy="18.7">successfully</tspan></text>
<rect class="bar" y="421" width="214" height="42"/><rect class="ind" x="69" y="459" width="76" height="2.5" rx="1.2"/>
<use href="#ig" x="32.5" y="438"/><use href="#ih" x="107.5" y="438"/><use href="#ip" x="184" y="438"/>
</g>

<g id="userinfro" class="phone" transform="translate(300,581.5)">
<rect class="ph" width="214" height="463"/><rect class="hd" width="214" height="55"/><use href="#sb"/>
<text class="st" x="14" y="9">Sketch</text><text class="st c" x="106" y="9">9:41 AM</text><text class="st" x="176" y="9">100%</text>
<use href="#bk"/><circle cx="107.7" cy="24.5" r="12" fill="#fff"/><text class="c" x="107.5" y="53.3" font-size="10.5" font-weight="600" fill="#fff">ID: 123456</text>
<rect class="tab" x="107.4" y="55.7" width="75.6" height="23" rx="3"/><rect class="tab" x="184" y="55.7" width="30" height="23" rx="3"/>
<text class="tb" x="6.5" y="71.9">Uncompleted order</text><text class="tb" x="113" y="71">Order history</text><text class="tb" x="190" y="70.5">Inter</text>
<rect class="ht" x="5.8" y="85" width="32.7" height="50.4"/><rect class="ht" x="76" y="85" width="32.8" height="50.4"/><rect class="ht" x="146" y="85" width="33.3" height="50.4"/>
<text class="s" x="44.4" y="90.5">Name: xxxx<tspan x="44.4" dy="13.8">Author:</tspan><tspan x="44.4" dy="7">xxxx</tspan><tspan x="44.4" dy="13.6">Category:</tspan><tspan x="44.4" dy="7">xxxx</tspan></text>
<text class="s" x="114.3" y="90.5">Name: xxxx<tspan x="114.3" dy="13.8">Author:</tspan><tspan x="114.3" dy="7">xxxx</tspan><tspan x="114.3" dy="13.6">Category:</tspan><tspan x="114.3" dy="7">xxxx</tspan></text>
<text class="s" x="184.5" y="90.5">Name: xxxx<tspan x="184.5" dy="13.8">Author:</tspan><tspan x="184.5" dy="7">xxxx</tspan><tspan x="184.5" dy="13.6">Category:</tspan><tspan x="184.5" dy="7">xxxx</tspan></text>
<rect x="80.5" y="161.5" width="54" height="13" fill="#FBEEDC" stroke="#F59A00" stroke-width="1.8"/><text class="gy c" x="107.7" y="171.6">See details</text>
<path d="M49.5,179H165" stroke="#999" stroke-width="1.2"/><text class="gy c" x="107.5" y="190.2">Estimated return date</text><text class="gy c" x="107.5" y="202">1st October 2018</text>
<rect class="pill" x="14.4" y="220" width="75" height="29" rx="14"/><rect class="pill" x="124" y="220" width="75" height="29" rx="14"/>
<text class="bt" x="28" y="237.6">Return</text><text class="bt" x="138" y="237.6">Extend</text>
<rect class="hl" x="27" y="225" width="46.6" height="16.3" rx="6"/><rect class="hl" x="136.6" y="225" width="47" height="16.3" rx="6"/>
<rect class="sec" y="270" width="214" height="151"/>
<text class="sh c" x="107.5" y="292.3">Shipping Address</text><text class="ad2 c" x="110" y="341.5">x/x xx St xxxx 2000</text><text class="ad2 c" x="111.5" y="356">Sydney NSW</text>
<rect class="bar" y="420.5" width="214" height="42.5"/><rect class="ind" x="69" y="459" width="76" height="2.5" rx="1.2"/>
<use href="#ig" x="33.3" y="438"/><use href="#ih" x="108" y="438"/><use href="#iw" x="184.5" y="428"/>
</g>

<g id="prompt2" class="phone" transform="translate(885,640)">
<rect class="sec" width="214" height="347"/><rect class="hd" width="214" height="55"/><use href="#sb"/>
<text class="st" x="14" y="9">Sketch</text><text class="st c" x="106" y="9">9:41 AM</text><text class="st" x="176" y="9">100%</text>
<text class="c" x="110" y="27" font-size="11.4" font-weight="600" fill="#fff">Please follow the picture to put<tspan x="110" dy="12.8">your books</tspan></text>
<path d="M0,182H214" stroke="#B5B5B5" stroke-width="1.5"/>
<text class="r" x="203" y="143.5" font-size="11.4" font-weight="600" fill="#444">Put your books in</text><text class="r" x="203" y="273.7" font-size="11.4" font-weight="600" fill="#444">Close the box</text>
<rect class="btn" y="318" width="214" height="29" rx="5"/><text class="bw" x="107" y="335.6" style="font-size:9px">Done!</text>
</g>

<g id="emptyorder" class="phone" transform="translate(1222.5,595)">
<rect class="ph" width="214" height="463"/><rect class="hd" width="214" height="55"/>
<rect class="tab" x="106.8" y="56" width="76.7" height="22" rx="3"/><rect class="tab" x="184.6" y="56" width="29.4" height="22" rx="3"/>
<text class="tb" x="6" y="71.6">Uncompleted order</text><text class="tb" x="112.8" y="70.6">Order history</text><text class="tb" x="189.6" y="70.5">Inter</text>
<text class="c" x="106.8" y="168.7" font-size="18" font-weight="600" fill="#444">Empty</text>
<rect class="sec" y="266" width="214" height="155"/>
<text class="sh c" x="107.3" y="293">Shipping Address</text><text class="ad2 c" x="110" y="341.4">x/x xx St xxxx 2000</text><text class="ad2 c" x="111" y="356">Sydney NSW</text>
<rect class="bar" y="421" width="214" height="42"/><rect class="ind" x="69" y="459" width="76" height="2.5" rx="1.2"/>
<use href="#il" x="31.5" y="438"/><use href="#ih" x="107.8" y="438"/><use href="#iw" x="184.5" y="428"/>
<rect class="card" x="4.8" y="1.3" width="204.7" height="60.7" rx="7"/><rect x="10.3" y="7.4" width="11.2" height="10.8" rx="2" fill="#FF3B30"/>
<text class="pg" x="25.5" y="15.8">PIGEON</text><text class="no" x="200" y="15.8">now</text><text class="c" x="105" y="40.5" font-size="11.5" font-weight="700" fill="#111">Order complete!</text>
</g>

<g id="extension" class="phone" transform="translate(1494,595)">
<rect class="ph" width="214" height="463"/><rect class="hd" width="214" height="55"/><use href="#sb"/>
<text class="st" x="14" y="9">Sketch</text><text class="st c" x="106" y="9">9:41 AM</text><text class="st" x="176" y="9">100%</text>
<use href="#bk"/><text class="wt c" x="107" y="32.4">Extend</text>
<rect class="sec" y="55" width="214" height="20.5"/><text class="h2" x="7" y="70">Order number: 12345</text>
<rect class="ht" x="3.5" y="82.4" width="32.8" height="50"/><rect class="ht" x="73.7" y="82.4" width="32.8" height="50"/><rect class="ht" x="143.4" y="82.4" width="33.3" height="50"/>
<text class="s" x="41.9" y="87.5">Name: xxxx<tspan x="41.9" dy="13.5">Author:</tspan><tspan x="41.9" dy="7">xxxx</tspan><tspan x="41.9" dy="13.7">Category:</tspan><tspan x="41.9" dy="7">xxxx</tspan></text>
<text class="s" x="112" y="87.5">Name: xxxx<tspan x="112" dy="13.5">Author:</tspan><tspan x="112" dy="7">xxxx</tspan><tspan x="112" dy="13.7">Category:</tspan><tspan x="112" dy="7">xxxx</tspan></text>
<text class="s" x="182.3" y="87.5">Name: xxxx<tspan x="182.3" dy="13.5">Author:</tspan><tspan x="182.3" dy="7">xxxx</tspan><tspan x="182.3" dy="13.7">Category:</tspan><tspan x="182.3" dy="7">xxxx</tspan></text>
<text class="sh c" x="107.5" y="168.7">Extend days</text>
<rect class="pill" x="15" y="192.3" width="74" height="28.7" rx="14"/><rect class="pill" x="124.7" y="192.3" width="74.3" height="28.7" rx="14"/>
<text class="bt c" x="50.4" y="211">3 days</text><text class="bt" x="138.8" y="211">7 days</text><rect class="hl" x="137.8" y="197" width="44.2" height="16.6" rx="6"/>
<rect class="sec" y="275.5" width="214" height="187.5"/>
<text class="h2 c" x="106.5" y="301.9">Face ID</text><text class="h2 c" x="106.5" y="314.4">Comfirmation</text><use href="#brk"/>
</g>

<g id="iphone-xs" class="phone" transform="translate(1765,595)">
<rect class="ph" width="214" height="463"/><rect class="hd" width="214" height="55"/><use href="#sb"/>
<text class="st" x="14" y="9">Sketch</text><text class="st c" x="106" y="9">9:41 AM</text><text class="st" x="176" y="9">100%</text>
<use href="#bk"/><circle cx="107" cy="23.6" r="12" fill="#fff"/><text class="c" x="107" y="52.4" font-size="10.5" font-weight="600" fill="#fff">ID: 123456</text>
<rect class="tab" x="107" y="55.7" width="76" height="23" rx="3"/><rect class="tab" x="184.6" y="55.7" width="29.4" height="23" rx="3"/>
<text class="tb" x="5.7" y="71.6">Uncompleted order</text><text class="tb" x="113" y="71">Order history</text><text class="tb" x="189.6" y="70.5">Inter</text>
<rect class="ht" x="5.2" y="85" width="33.3" height="50.2"/><rect class="ht" x="75.4" y="85" width="32.6" height="50.2"/><rect class="ht" x="145.6" y="85" width="33.4" height="50.2"/>
<text class="s" x="43.6" y="91">Name: xxxx<tspan x="43.6" dy="13.2">Author:</tspan><tspan x="43.6" dy="6.8">xxxx</tspan><tspan x="43.6" dy="13.9">Category:</tspan><tspan x="43.6" dy="7">xxxx</tspan></text>
<text class="s" x="113.8" y="91">Name: xxxx<tspan x="113.8" dy="13.2">Author:</tspan><tspan x="113.8" dy="6.8">xxxx</tspan><tspan x="113.8" dy="13.9">Category:</tspan><tspan x="113.8" dy="7">xxxx</tspan></text>
<text class="s" x="184.5" y="91">Name: xxxx<tspan x="184.5" dy="13.2">Author:</tspan><tspan x="184.5" dy="6.8">xxxx</tspan><tspan x="184.5" dy="13.9">Category:</tspan><tspan x="184.5" dy="7">xxxx</tspan></text>
<text class="gy c" x="107" y="170.7">See details</text><path d="M49.6,178.8H164.8" stroke="#999" stroke-width="1.6"/>
<text class="gy c" x="107" y="190">Estimated return date</text><text class="gy c" x="107" y="201.8">8th October 2018</text>
<rect class="pill" x="70.4" y="220.4" width="74.2" height="28" rx="14"/><text class="bt" x="83.5" y="238">Return</text><rect class="hl" x="82.5" y="224.8" width="45.5" height="16.9" rx="6"/>
<rect class="sec" y="270" width="214" height="151"/>
<text class="sh c" x="107" y="293">Shipping Address</text><text class="ad2 c" x="109.5" y="341.4">x/x xx St xxxx 2000</text><text class="ad2 c" x="111" y="356">Sydney NSW</text>
<rect class="bar" y="421" width="214" height="42"/><rect class="ind" x="69" y="459" width="76" height="2.5" rx="1.2"/>
<use href="#il" x="32" y="438"/><use href="#ih" x="106.7" y="438"/><use href="#iw" x="184.5" y="428"/>
</g>

<g id="withpromptreturn" class="phone" transform="translate(357.5,1117)">
<rect class="ph" width="214" height="463"/><rect class="hd" width="214" height="55"/>
<rect class="sec" y="54.5" width="214" height="62.8"/><use href="#fc" x="19" y="84.7"/>
<text class="ad" x="36.4" y="87.8">Address: x/x xx St xxxx 2000</text><text class="ad" x="87.4" y="100.9">Sydney NSW</text>
<rect class="sec" y="118.7" width="214" height="19.9"/><text class="h2" x="6.3" y="133.8">Order number: 12345</text>
<rect class="ht" x="3.2" y="146" width="32.7" height="50"/><rect class="ht" x="73" y="146" width="32.8" height="50"/><rect class="ht" x="143" y="146" width="33" height="50"/>
<text class="s" x="41.5" y="151.3">Name: xxxx<tspan x="41.5" dy="13.4">Author:</tspan><tspan x="41.5" dy="7.2">xxxx</tspan><tspan x="41.5" dy="13.6">Category:</tspan><tspan x="41.5" dy="7.2">xxxx</tspan></text>
<text class="s" x="111.4" y="151.3">Name: xxxx<tspan x="111.4" dy="13.4">Author:</tspan><tspan x="111.4" dy="7.2">xxxx</tspan><tspan x="111.4" dy="13.6">Category:</tspan><tspan x="111.4" dy="7.2">xxxx</tspan></text>
<text class="s" x="181.8" y="151.3">Name: xxxx<tspan x="181.8" dy="13.4">Author:</tspan><tspan x="181.8" dy="7.2">xxxx</tspan><tspan x="181.8" dy="13.6">Category:</tspan><tspan x="181.8" dy="7.2">xxxx</tspan></text>
<rect class="sec" y="203.8" width="214" height="19.6"/><text class="h2" x="4.7" y="216.8">Order Status:</text><text class="h2" x="88" y="216.8">Arrive</text>
<use href="#map" x="33.8" y="230"/><use href="#pin" x="61.3" y="260.5"/><use href="#nav" x="68.3" y="282"/>
<text class="mt" x="36" y="273">Drummoyne</text><text class="mt" x="132.8" y="270">Birchgrove</text><text class="mt" x="132.8" y="296">Balmain</text><text class="mt" x="92.3" y="320.6">Rozelle</text><text class="mt" x="74" y="409">Leichhardt Library</text><text class="mt" x="170" y="327" style="fill:#E58BD0">The</text><text class="mt" x="166.4" y="356" style="fill:#5AA6A6">Darl</text>
<rect class="bar" y="420.7" width="214" height="42.3"/><rect class="ind" x="69" y="458.5" width="76" height="2.5" rx="1.2"/>
<use href="#ig" x="32.8" y="438"/><use href="#ih" x="106.8" y="438"/><use href="#ip" x="183.8" y="436"/>
<rect class="card" x="4.7" y="2" width="205" height="61" rx="7"/><rect x="10.4" y="8.2" width="11.2" height="10.8" rx="2" fill="#FF3B30"/>
<text class="pg" x="25.7" y="16.8">PIGEON</text><text class="no" x="200" y="16.8">now</text><text class="nt" x="11.4" y="32.6">User comfirmation</text>
<text class="nl" x="11.4" y="44.6">The drone arrived. Please look at the Drone's camera for</text><text class="nl" x="11.4" y="52.8">Face ID Comfirmation</text>
<rect class="btn" x="4.7" y="63" width="204.1" height="15" rx="7"/><text class="bw" x="106.8" y="73.7">Understand</text>
</g>

<g id="withremi-turninfor" class="phone" transform="translate(843,1117)">
<rect class="ph" width="214" height="463"/><rect class="hd" width="214" height="55"/>
<rect class="sec" y="54.5" width="214" height="62.8"/><use href="#fc" x="19" y="84.7"/>
<text class="ad" x="36" y="87.8">Address: x/x xx St xxxx 2000</text><text class="ad" x="87.6" y="100.9">Sydney NSW</text>
<rect class="sec" y="118.7" width="214" height="19.9"/><text class="h2" x="6.5" y="133.8">Order number: 12345</text>
<rect class="ht" x="2.4" y="146" width="33.2" height="50"/><rect class="ht" x="72.8" y="146" width="33.2" height="50"/><rect class="ht" x="143.7" y="146" width="32.7" height="50"/>
<text class="s" x="41.7" y="151.3">Name: xxxx<tspan x="41.7" dy="13.4">Author:</tspan><tspan x="41.7" dy="7.2">xxxx</tspan><tspan x="41.7" dy="13.6">Category:</tspan><tspan x="41.7" dy="7.2">xxxx</tspan></text>
<text class="s" x="111.6" y="151.3">Name: xxxx<tspan x="111.6" dy="13.4">Author:</tspan><tspan x="111.6" dy="7.2">xxxx</tspan><tspan x="111.6" dy="13.6">Category:</tspan><tspan x="111.6" dy="7.2">xxxx</tspan></text>
<text class="s" x="182" y="151.3">Name: xxxx<tspan x="182" dy="13.4">Author:</tspan><tspan x="182" dy="7.2">xxxx</tspan><tspan x="182" dy="13.6">Category:</tspan><tspan x="182" dy="7.2">xxxx</tspan></text>
<rect class="sec" y="204.5" width="214" height="20"/><path d="M142.7,204.5V224.5" stroke="#999"/><text class="h2" x="5" y="217.5">Order Status:</text><text class="h2" x="88" y="217.5">In transit</text><text class="h2" x="149.3" y="217.5">19 minutes</text>
<use href="#map" x="34" y="228.5"/>
<text class="mt" x="36" y="271.5">Drummoyne</text><text class="mt" x="133" y="268.5">Birchgrove</text><text class="mt" x="133" y="294.5">Balmain</text><text class="mt" x="92.5" y="319">Rozelle</text><text class="mt" x="74" y="407.5">Leichhardt Library</text><text class="mt" x="170" y="325.5" style="fill:#E58BD0">The</text><text class="mt" x="166.6" y="354.5" style="fill:#5AA6A6">Darl</text>
<rect class="bar" y="420.7" width="214" height="42.3"/><rect class="ind" x="69" y="458.5" width="76" height="2.5" rx="1.2"/>
<use href="#il" x="32.5" y="437"/><use href="#ih" x="106.5" y="438"/><use href="#ip" x="183.5" y="438"/>
<rect class="card" x="4.7" y="2" width="205" height="61" rx="7"/><rect x="10.4" y="8.2" width="11.2" height="10.8" rx="2" fill="#FF3B30"/>
<text class="pg" x="25.7" y="16.8">PIGEON</text><text class="no" x="200" y="16.8">now</text><text class="nt" x="11.4" y="32.6">Reminder</text>
<text class="nl" x="11.4" y="44.6">The drone is on the its way. Please stay in your address in</text><text class="nl" x="11.4" y="52.8">next 20 minutes</text>
<rect class="btn" x="5" y="63" width="204" height="15" rx="7"/><text class="bw" x="106.5" y="73.7">Understand</text>
</g>

<g id="titles">
<text class="ti" x="35" y="35">Homepage</text><text class="ti" x="306.5" y="35">Booklist</text><text class="ti" x="579" y="35">Bookinfo</text><text class="ti" x="848.5" y="35">List</text><text class="ti" x="1123" y="35">comfirmation</text>
<text class="ti" x="1392.7" y="45.6">withnotify Oderinfo</text><text class="ti" x="1665" y="45.6">withRem...roderinfo</text>
<text class="ti" x="35" y="570">Order delivered</text><text class="ti" x="306.5" y="570">userinfro</text><text class="ti" x="890.4" y="628">Prompt2</text>
<text class="ti" x="1228" y="583">EmptyOrder</text><text class="ti" x="1500.5" y="583">Extension</text><text class="ti" x="1770.7" y="583">iPhone XS</text>
<text class="ti" x="364.8" y="1105">withpromptreturn</text><text class="ti" x="848.5" y="1105">withremi...turninfor</text>
</g>

<g id="connectors">
<path d="M243,166C262,166 282,170 300,176M514,194L571,166"/>
<path d="M90,248.5C150,252 210,260 248,270C265,274 285,278 300,281"/>
<path d="M158,248.5C190,250 215,252 240,265C255,272 280,285 300,291"/>
<path d="M228,248.5C255,248.5 280,251 300,253"/>
<path d="M236.6,379C260,379 280,375 300,370"/>
<path d="M70,487C130,487 215,474 300,444"/>
<path class="a" d="M223,485C250,488 268,510 268,545C268,610 245,660 250,730C254,785 262,813 293,813"/>
<path d="M341,483C360,483 380,482 396,480C440,470 490,440 571,394"/>
<path class="a" d="M396,481C345,478 325,420 312,350C300,300 285,279 250,279"/>
<path class="a" d="M300,279L293,279"/>
<path class="a" d="M484.5,491C484,520 455,530 430,545C415,553 406,555 406,574"/>
<path class="a" d="M514,270C530,275 545,278 564,278"/><path class="a" d="M514,284C530,281 545,278 564,278"/>
<path class="a" d="M514,206C530,212 535,240 540,250C546,270 552,278 564,278"/>
<path class="a" d="M514,357C530,345 538,335 540,311C543,290 548,278 564,278"/>
<path d="M514,296L571,303M514,303L571,314M514,320L571,346M514,326L571,352M514,357L571,335M514,375L571,423M514,338L571,372"/>
<path d="M571,453L492,581M423,510L446,581M403,510L400,581"/>
<path d="M397,1019.5C340,1012 300,985 300,860C300,760 328,610 339,510"/>
<path d="M875,1546C820,1530 760,1480 715,1400C670,1300 650,1200 616,1060C590,900 562,750 540,625C530,590 520,545 506,510"/>
<path d="M341.6,1019.5C390,1018 430,995 470,950C505,905 528,850 540,815C565,733 600,610 628,510"/>
<path d="M399,1555C450,1550 510,1510 555,1430C600,1330 616,1200 616,1060C616,900 616,720 635,510"/>
<path d="M657,510L886,775M785,505C700,590 620,660 515,733M843,448L785,505"/>
<path class="a" d="M1016,485.5C960,487 920,510 884,530C840,570 720,720 616,790C580,808 550,813 521,813"/>
<path d="M785,484L1004,640M1099,687L1223,778M939.5,485C890,485 830,475 785,460M785,465L1033,640M1099,702C1150,735 1190,760 1223,767"/>
<path class="a" d="M791,485C850,480 890,430 970,348C1000,315 1040,278 1107.5,278"/>
<path d="M875,1546L917,987"/><path class="a" d="M946,640L950,517"/>
<path d="M1246.5,1033C1190,1020 1160,970 1140,834C1135,700 1150,620 1166,510"/>
<path d="M1099.4,972C1150,1000 1200,1020 1240,1025C1270,1030 1295,1033 1319.7,1033"/>
<path class="a" d="M1099.4,972C1150,965 1170,900 1190,850C1198,832 1205,826 1215,826"/>
<path class="a" d="M1099,822.5L1215,826"/><path class="a" d="M1436,826L1487,826.5"/>
<path class="a" d="M1676,800.5C1700,804 1725,826.5 1758,826.5"/>
<path d="M1847.5,828.6C1800,830 1750,835 1707.6,863"/>
<path d="M1708,1016C1740,1025 1765,1030 1788,1033M1708,1018C1735,1030 1765,1033 1788,1033L1862,1033"/>
<path class="a" d="M1494,1043C1400,1170 1210,1348.6 1064,1348.6"/>
<path class="a" d="M566.8,1187.7C640,1180 690,1090 720,1010C760,890 800,813 878,813"/>
<path class="a" d="M763.6,905C800,905 817,950 817,1000C817,1100 782,1180 782,1283C782,1330 800,1348.6 836,1348.6"/>
<path class="a" d="M847,1187.7C780,1192 730,1250 690,1295C650,1335 620,1348.6 578,1348.6"/>
<path class="a" d="M886,724C780,770 650,805 521,813"/><path class="a" d="M886,755C780,790 650,813 521,813"/><path class="a" d="M886,819L521,813"/>
<path class="a" d="M1016,1555C910,1510 820,1370 782,1232C755,1130 720,990 674,912C640,860 590,815 521,813"/>
<path class="a" d="M531,1553C490,1550 458,1500 458,1437C458,1370 480,1300 504,1232C530,1160 580,1000 580,902C580,860 560,813 521,813"/>
<path class="a" d="M515,861C535,950 545,990 563,1060C590,1150 640,1250 688,1293C730,1330 790,1348.6 836,1348.6"/>
<path d="M454.6,1555C420,1555 350,1520 315,1437C290,1370 300,1266 300,1266C305,1190 320,1100 327,1045"/>
<path class="a" d="M380,749C345,749 310,780 290,795C275,806 265,813 250,813"/>
<path class="a" d="M50,611C100,615 130,650 151,682C180,730 230,813 293,813"/>
<path d="M71,1020C110,1020 140,1012 160,1004C215,985 262,935 300,894"/>
<path class="a" d="M137,1009L136,517"/>
<path class="a" d="M224.5,1020C258,1012 258,960 260,868C262,830 270,813 293,813"/>
<path d="M300,811L250,813M483.5,814L540,814"/><path class="a" d="M506,814L492,814"/>
<path class="a" d="M600,483C660,470 700,400 760,311C780,285 800,278 835.5,278"/>
<path class="a" d="M785,281L835.5,278"/><path class="a" d="M785,284L835.5,278"/>
<path d="M785,341L843,352M785,366L843,381M849,76C825,76 805,78 785,81M1057,257L1115,217"/>
<path class="a" d="M1028,452C1055,450 1062,430 1065,400C1068,340 1072,278 1107.5,278"/>
<path class="a" d="M1115,282C1095,279 1080,278 1063,278"/><path class="a" d="M1115,289C1095,282 1080,278 1063,278"/>
<path d="M1057,399L1115,412M1057,436L1115,450"/>
<path class="a" d="M1306.6,292.4L1380,289"/>
<path d="M1391,128.5C1370,128.5 1350,130 1329,132.5M1329,364L1386,395M1329,455L1386,463"/>
<path d="M1410.6,496C1385,495 1360,490 1329,470M1483.6,496L1410.6,496C1385,496 1360,492 1329,487"/>
<path d="M1559.7,496C1510,498 1430,505 1342,530C1290,545 1180,595 1071,640"/>
<path class="a" d="M1662,128.5C1640,130 1633,150 1633,190L1633,255C1633,280 1622,289 1608,289"/>
<path d="M1682,495C1650,495 1625,492 1601,487M1682,496C1650,496 1625,494 1601,490M1755,495L1682,495"/>
<path d="M1832,496C1800,496 1770,497 1755,500C1680,510 1600,520 1557,530C1500,545 1420,570 1341,594M1223,637L1099,682"/>
<path d="M1329,472L1394,595M1436,678L1493,790M1436,912L1493,941"/>
<path d="M875,1546C895,1553 915,1555 940,1555"/>
<circle cx="243" cy="166"/><circle cx="90" cy="248.5"/><circle cx="158.4" cy="248.5"/><circle cx="228.3" cy="248.5"/><circle cx="236.6" cy="379"/><circle cx="70" cy="487"/><circle cx="223" cy="485"/>
<circle cx="341" cy="483"/><circle cx="396" cy="481"/><circle cx="484.5" cy="491"/><circle cx="600" cy="483"/>
<circle cx="849" cy="76.4"/><circle cx="1028" cy="452"/><circle cx="939.5" cy="485"/><circle cx="1016" cy="485.5"/><circle cx="1306.6" cy="292.4"/>
<circle cx="1391" cy="128.5"/><circle cx="1410.6" cy="496"/><circle cx="1483.6" cy="496"/><circle cx="1559.7" cy="496"/>
<circle cx="1662" cy="128.5"/><circle cx="1682" cy="496"/><circle cx="1755" cy="495"/><circle cx="1832" cy="496"/>
<circle cx="50.3" cy="611"/><circle cx="71" cy="1020"/><circle cx="137" cy="1009"/><circle cx="224.5" cy="1020"/>
<circle cx="380" cy="749"/><circle cx="483.5" cy="814"/><circle cx="341.6" cy="1019.5"/><circle cx="397" cy="1019.5"/>
<circle cx="1099.4" cy="972"/><circle cx="763.6" cy="905"/>
<circle cx="1246.5" cy="1033"/><circle cx="1319.7" cy="1033"/><circle cx="1676" cy="800.5"/><circle cx="1847.5" cy="828.6"/><circle cx="1788.4" cy="1033"/><circle cx="1862" cy="1033"/>
<circle cx="566.8" cy="1187.7"/><circle cx="399" cy="1555"/><circle cx="454.6" cy="1555"/><circle cx="531" cy="1553"/>
<circle cx="847" cy="1187.7"/><circle cx="875" cy="1546"/><circle cx="940" cy="1555"/><circle cx="1016" cy="1555"/>
</g>
</svg>
